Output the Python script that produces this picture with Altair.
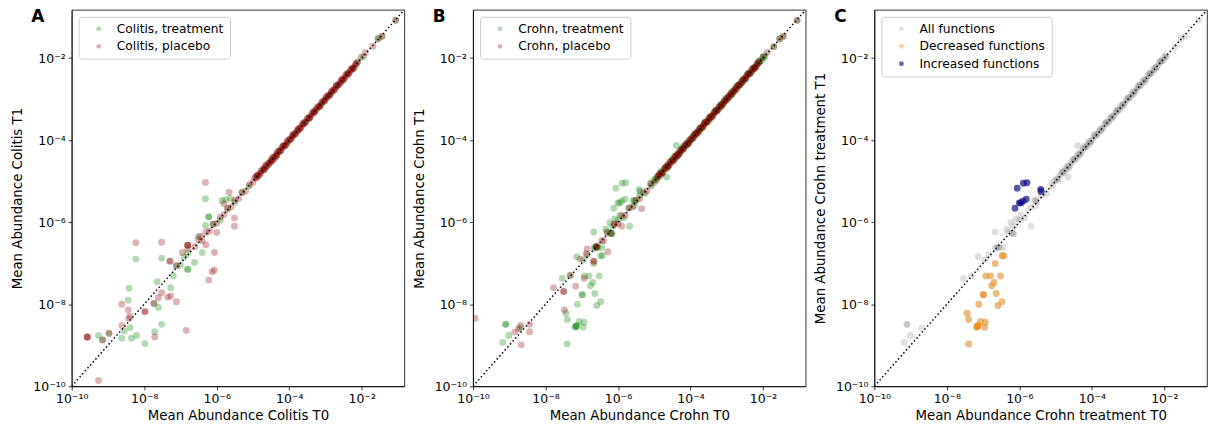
import altair as alt
import pandas as pd

# ---------------- values are log10(mean abundance) -------------
# Panel A: Colitis
a_trt_off_t0 = [-9.26, -9.15, -8.97, -8.62, -8.55, -8.35, -8.21, -7.98, -7.71, -7.73, -7.52, -8.39,
                -8.44, -8.42, -8.23, -7.52, -7.64, -7.61, -7.27, -7.20, -7.11, -6.80, -6.80, -6.80,
                -6.61, -6.40, -6.31, -5.85, -5.75, -5.62, -6.22, -6.22, -6.31, -6.50, -6.90, -7.00]
a_trt_off_t1 = [-8.76, -8.87, -8.71, -8.83, -8.65, -8.83, -8.76, -8.96, -8.67, -7.98, -8.49, -8.57,
                -7.90, -7.61, -6.90, -6.88, -7.45, -8.08, -7.60, -7.31, -7.06, -7.15, -7.15, -6.76,
                -6.98, -6.74, -5.43, -5.47, -5.45, -5.42, -5.87, -5.87, -6.08, -6.35, -6.85, -7.05]
a_trt_diag_t0 = [-6.1, -5.9, -5.7, -5.5, -5.3, -5.1, -4.9, -4.7, -4.5, -4.35, -4.2, -4.05, -3.9, -3.75,
                 -3.6, -3.45, -3.3, -3.15, -3.0, -2.85, -2.7, -2.55, -2.4, -2.25, -2.1, -1.95, -1.55,
                 -1.44, -1.06]
a_trt_diag_t1 = [-6.05, -5.95, -5.66, -5.52, -5.27, -5.12, -4.88, -4.72, -4.47, -4.37, -4.18, -4.07,
                 -3.88, -3.77, -3.58, -3.47, -3.28, -3.17, -2.98, -2.87, -2.68, -2.57, -2.38, -2.27,
                 -2.08, -1.97, -1.53, -1.47, -1.08]
a_pla_off_t0 = [-9.57, -9.57, -9.57, -9.26, -9.15, -8.97, -7.71, -6.84, -8.61, -8.39, -8.43, -8.62,
                -8.44, -8.23, -7.52, -7.98, -7.98, -7.73, -7.61, -7.52, -7.35, -7.27, -7.11, -7.29,
                -7.29, -7.11, -6.80, -6.80, -6.80, -6.80, -6.95, -6.22, -6.13, -6.06, -6.06, -5.51,
                -5.51, -6.31, -5.66, -6.45, -6.60, -6.30, -6.00, -5.80]
a_pla_off_t1 = [-8.80, -8.80, -8.80, -9.86, -8.87, -8.71, -8.80, -8.64, -8.52, -8.30, -8.35, -8.00,
                -8.14, -6.50, -6.49, -8.18, -8.18, -7.98, -7.84, -7.72, -7.83, -7.80, -7.94, -6.95,
                -6.95, -7.06, -6.56, -6.56, -6.56, -6.65, -6.74, -7.41, -7.21, -7.17, -6.74, -5.90,
                -6.10, -5.03, -5.27, -6.35, -6.60, -6.55, -6.25, -5.55]
a_pla_diag_t0 = [-6.5, -6.4, -6.3, -6.2, -6.1, -6.0, -5.9, -5.8, -5.7, -5.6, -5.5, -5.4, -5.3, -5.2,
                 -5.1, -5.0, -4.92, -4.85, -4.78, -4.7, -4.63, -4.56, -4.5, -4.44, -4.38, -4.31,
                 -4.25, -4.18, -4.12, -4.05, -3.98, -3.92, -3.85, -3.78, -3.72, -3.65, -3.58, -3.52,
                 -3.45, -3.38, -3.32, -3.25, -3.18, -3.12, -3.05, -2.98, -2.92, -2.85, -2.78, -2.72,
                 -2.65, -2.58, -2.52, -2.45, -2.38, -2.32, -2.25, -2.18, -2.12, -2.01, -1.9, -1.69,
                 -1.54, -1.44, -1.06]
a_pla_diag_t1 = [-6.42, -6.45, -6.25, -6.22, -6.05, -6.03, -5.88, -5.82, -5.68, -5.63, -5.47, -5.43,
                 -5.28, -5.24, -5.08, -5.03, -4.9, -4.88, -4.76, -4.73, -4.62, -4.58, -4.5, -4.48,
                 -4.4, -4.29, -4.27, -4.16, -4.14, -4.04, -3.97, -3.93, -3.84, -3.79, -3.71, -3.66,
                 -3.57, -3.53, -3.44, -3.39, -3.31, -3.26, -3.17, -3.13, -3.04, -2.99, -2.91, -2.86,
                 -2.77, -2.73, -2.64, -2.59, -2.51, -2.46, -2.37, -2.33, -2.24, -2.19, -2.11, -1.97,
                 -1.87, -1.71, -1.53, -1.47, -1.08]
a_pla_band_t0 = [-4.95, -4.9, -4.86, -4.81, -4.75, -4.68, -4.66, -4.6, -4.53, -4.47, -4.46, -4.41,
                 -4.35, -4.33, -4.28, -4.22, -4.15, -4.09, -4.02, -3.95, -3.89, -3.82, -3.75, -3.69,
                 -3.62, -3.55, -3.49, -3.42, -3.35, -3.29, -3.22, -3.15, -3.09, -3.02, -2.95, -2.89,
                 -2.82, -2.75, -2.69, -2.62, -2.55, -2.49, -2.42, -2.35, -2.29, -2.22, -2.15]
a_pla_band_t1 = [-4.93, -4.92, -4.84, -4.83, -4.73, -4.7, -4.62, -4.63, -4.55, -4.5, -4.42, -4.44,
                 -4.33, -4.36, -4.26, -4.24, -4.13, -4.11, -4.0, -3.97, -3.87, -3.84, -3.73, -3.71,
                 -3.6, -3.57, -3.47, -3.44, -3.33, -3.31, -3.2, -3.17, -3.07, -3.04, -2.93, -2.91,
                 -2.8, -2.77, -2.67, -2.64, -2.53, -2.51, -2.4, -2.37, -2.27, -2.24, -2.13]
a_pla_band2_t0 = [-4.88, -4.79, -4.71, -4.64, -4.58, -4.51, -4.43, -4.37, -4.3, -4.24, -4.17, -4.11,
                  -4.04, -3.97, -3.9, -3.84, -3.77, -3.7, -3.64, -3.57, -3.5, -3.44, -3.37, -3.3,
                  -3.24, -3.17, -3.1, -3.04, -2.97, -2.9, -2.84, -2.77, -2.7, -2.64, -2.57, -2.5,
                  -2.44, -2.37, -2.3, -2.24, -2.17]
a_pla_band2_t1 = [-4.86, -4.81, -4.69, -4.66, -4.56, -4.53, -4.41, -4.39, -4.28, -4.26, -4.15, -4.13,
                  -4.02, -3.99, -3.88, -3.86, -3.75, -3.72, -3.62, -3.59, -3.48, -3.46, -3.35, -3.32,
                  -3.22, -3.19, -3.08, -3.06, -2.95, -2.92, -2.82, -2.79, -2.68, -2.66, -2.55, -2.52,
                  -2.42, -2.39, -2.28, -2.26, -2.15]

# Panel C subsets (Crohn treatment), also part of the Crohn treatment series in panel B
c_dec_t0 = [-7.40, -7.44, -7.40, -7.16, -7.16, -7.14, -7.18, -7.07, -6.94, -6.96, -7.12, -6.99,
            -6.99, -6.76, -6.70, -6.64, -6.59, -6.48, -6.93, -6.80, -6.52, -6.67, -6.48, -6.43]
c_dec_t1 = [-8.97, -8.22, -8.37, -8.54, -8.54, -8.52, -8.56, -8.42, -8.44, -8.56, -8.00, -7.77,
            -7.77, -7.55, -7.47, -7.74, -8.03, -7.94, -7.31, -7.31, -7.31, -7.01, -6.82, -6.82]
c_inc_t0 = [-6.06, -5.89, -5.79, -6.12, -6.00, -5.96, -5.90, -5.81, -5.40, -5.41]
c_inc_t1 = [-5.17, -5.05, -5.04, -5.66, -5.53, -5.53, -5.49, -5.44, -5.25, -5.20]
c_other_t0 = [-9.18, -9.01, -9.10, -9.10, -8.69, -7.54, -7.33, -7.14, -6.96, -6.85, -6.67, -6.66,
              -6.62, -6.58, -6.55, -6.45, -6.34, -6.23, -6.18, -6.16, -6.20, -6.09, -5.95, -5.68,
              -5.58, -5.55, -5.52, -5.08, -4.66, -4.39]
c_other_t1 = [-8.93, -8.76, -8.49, -8.49, -8.58, -7.37, -7.31, -6.84, -6.92, -6.79, -6.24, -6.63,
              -6.63, -6.60, -6.62, -6.62, -6.17, -6.01, -6.28, -6.28, -6.26, -5.92, -5.83, -6.10,
              -5.47, -5.47, -5.50, -5.12, -4.90, -4.13]
b_trt_diag_t0 = [-6.3, -6.15, -6.0, -5.85, -5.7, -5.55, -5.4, -5.25, -5.1, -4.95, -4.8, -4.65, -4.5,
                 -4.35, -4.2, -4.05, -3.9, -3.75, -3.6, -3.45, -3.3, -3.15, -3.0, -2.85, -2.7, -2.55,
                 -2.4, -2.25, -2.1, -1.95, -1.7, -1.54, -1.44, -1.06]
b_trt_diag_t1 = [-6.25, -6.1, -5.95, -5.9, -5.65, -5.6, -5.35, -5.3, -5.05, -4.98, -4.75, -4.7,
                 -4.45, -4.38, -4.15, -4.08, -3.86, -3.78, -3.56, -3.48, -3.27, -3.18, -2.97, -2.88,
                 -2.67, -2.58, -2.37, -2.28, -2.07, -1.98, -1.72, -1.53, -1.47, -1.08]
b_trt_band_t0 = [-5.02, -4.93, -4.84, -4.76, -4.68, -4.6, -4.52, -4.44, -4.37, -4.29, -4.22, -4.14,
                 -4.07, -3.99, -3.92, -3.84, -3.77, -3.69, -3.62, -3.54, -3.47, -3.39, -3.32, -3.24,
                 -3.17, -3.09, -3.02, -2.94, -2.87, -2.79, -2.72, -2.64, -2.57, -2.49, -2.42, -2.34,
                 -2.27, -2.19, -2.12, -2.04, -1.97]
b_trt_band_t1 = [-4.98, -4.95, -4.8, -4.78, -4.64, -4.62, -4.49, -4.46, -4.34, -4.31, -4.19, -4.16,
                 -4.04, -4.01, -3.89, -3.86, -3.74, -3.71, -3.59, -3.56, -3.44, -3.41, -3.29, -3.26,
                 -3.14, -3.11, -2.99, -2.96, -2.84, -2.81, -2.69, -2.66, -2.54, -2.51, -2.39, -2.36,
                 -2.24, -2.21, -2.09, -2.06, -1.94]
b_trt_band2_t0 = [-4.97, -4.88, -4.8, -4.72, -4.64, -4.56, -4.48, -4.4, -4.33, -4.25, -4.18, -4.1,
                  -4.03, -3.95, -3.88, -3.8, -3.73, -3.65, -3.58, -3.5, -3.43, -3.35, -3.28, -3.2,
                  -3.13, -3.05, -2.98, -2.9, -2.83, -2.75, -2.68, -2.6, -2.53, -2.45, -2.38, -2.3,
                  -2.23, -2.15, -2.08, -2.0]
b_trt_band2_t1 = [-4.94, -4.86, -4.79, -4.7, -4.63, -4.54, -4.47, -4.38, -4.32, -4.23, -4.17, -4.08,
                  -4.02, -3.93, -3.87, -3.78, -3.72, -3.63, -3.57, -3.48, -3.42, -3.33, -3.27, -3.18,
                  -3.12, -3.03, -2.97, -2.88, -2.82, -2.73, -2.67, -2.58, -2.52, -2.43, -2.37, -2.28,
                  -2.22, -2.13, -2.07, -1.98]
b_pla_off_t0 = [-9.94, -8.85, -8.75, -8.69, -8.67, -8.44, -8.44, -7.78, -7.50, -7.50, -7.48, -7.17,
                -7.31, -7.05, -6.93, -6.88, -6.67, -6.67, -6.85, -6.60, -6.60, -6.60, -6.28, -6.45,
                -5.35, -6.10, -5.90]
b_pla_off_t1 = [-8.34, -8.68, -8.60, -8.52, -8.99, -8.67, -8.49, -7.60, -7.69, -7.69, -8.14, -7.56,
                -7.29, -6.90, -7.37, -6.77, -6.95, -6.95, -6.65, -6.60, -6.60, -6.60, -6.72, -6.45,
                -5.67, -6.05, -6.10]
b_pla_diag_t0 = [-6.4, -6.3, -6.2, -6.1, -6.0, -5.9, -5.8, -5.7, -5.6, -5.5, -5.4, -5.3, -5.2, -5.1,
                 -5.0, -4.9, -4.8, -4.7, -4.62, -4.55, -4.48, -4.41, -4.34, -4.27, -4.2, -4.13,
                 -4.06, -3.99, -3.92, -3.85, -3.78, -3.71, -3.64, -3.57, -3.5, -3.43, -3.36, -3.29,
                 -3.22, -3.15, -3.08, -3.01, -2.94, -2.87, -2.8, -2.73, -2.66, -2.59, -2.52, -2.45,
                 -2.38, -2.31, -2.24, -2.17, -2.1, -2.0, -1.88, -1.7, -1.54, -1.44, -1.06]
b_pla_diag_t1 = [-6.45, -6.25, -6.28, -6.05, -6.04, -5.85, -5.83, -5.66, -5.63, -5.46, -5.43, -5.27,
                 -5.23, -5.07, -5.03, -4.88, -4.83, -4.68, -4.63, -4.53, -4.49, -4.39, -4.35, -4.25,
                 -4.21, -4.11, -4.07, -3.97, -3.93, -3.83, -3.79, -3.69, -3.65, -3.55, -3.51, -3.41,
                 -3.37, -3.27, -3.23, -3.13, -3.09, -2.99, -2.95, -2.85, -2.81, -2.71, -2.67, -2.57,
                 -2.53, -2.43, -2.39, -2.29, -2.25, -2.15, -2.11, -1.98, -1.86, -1.72, -1.53, -1.47,
                 -1.08]
b_pla_band_t0 = [-4.92, -4.87, -4.83, -4.78, -4.72, -4.65, -4.63, -4.57, -4.5, -4.44, -4.43, -4.38,
                 -4.32, -4.3, -4.25, -4.19, -4.12, -4.06, -3.99, -3.92, -3.86, -3.79, -3.72, -3.66,
                 -3.59, -3.52, -3.46, -3.39, -3.32, -3.26, -3.19, -3.12, -3.06, -2.99, -2.92, -2.86,
                 -2.79, -2.72, -2.66, -2.59, -2.52, -2.46, -2.39, -2.32, -2.26, -2.19, -2.12]
b_pla_band_t1 = [-4.9, -4.89, -4.81, -4.8, -4.7, -4.67, -4.59, -4.6, -4.52, -4.47, -4.39, -4.41,
                 -4.3, -4.33, -4.23, -4.21, -4.1, -4.08, -3.97, -3.94, -3.84, -3.81, -3.7, -3.68,
                 -3.57, -3.54, -3.44, -3.41, -3.3, -3.28, -3.17, -3.14, -3.04, -3.01, -2.9, -2.88,
                 -2.77, -2.74, -2.64, -2.61, -2.5, -2.48, -2.37, -2.34, -2.24, -2.21, -2.1]
b_pla_band2_t0 = [-4.86, -4.77, -4.69, -4.62, -4.56, -4.49, -4.41, -4.35, -4.28, -4.22, -4.15, -4.09,
                  -4.02, -3.95, -3.88, -3.82, -3.75, -3.68, -3.62, -3.55, -3.48, -3.42, -3.35, -3.28,
                  -3.22, -3.15, -3.08, -3.02, -2.95, -2.88, -2.82, -2.75, -2.68, -2.62, -2.55, -2.48,
                  -2.42, -2.35, -2.28, -2.22, -2.15]
b_pla_band2_t1 = [-4.84, -4.79, -4.67, -4.64, -4.54, -4.51, -4.39, -4.37, -4.26, -4.24, -4.13, -4.11,
                  -4.0, -3.97, -3.86, -3.84, -3.73, -3.7, -3.6, -3.57, -3.46, -3.44, -3.33, -3.3,
                  -3.2, -3.17, -3.06, -3.04, -2.93, -2.9, -2.8, -2.77, -2.66, -2.64, -2.53, -2.5,
                  -2.4, -2.37, -2.26, -2.24, -2.13]

tick_values = [1e-10, 1e-8, 1e-6, 1e-4, 1e-2]
tick_labels = ["10⁻¹⁰", "10⁻⁸", "10⁻⁶", "10⁻⁴", "10⁻²"]
axis_min, axis_max = 1e-10, 0.15

FONT = "DejaVu Sans"


def frame(t0, t1, name):
    return pd.DataFrame({"x": [10 ** v for v in t0], "y": [10 ** v for v in t1], "series": name})


label_expr = ""
for v, lab in zip(tick_values, tick_labels):
    label_expr += f"datum.value <= {v * 1.5} ? '{lab}' : "
label_expr += "''"


def panel(df, names, colors, opacities, xtitle, ytitle, letter):
    xs = alt.Scale(type="log", domain=[axis_min, axis_max], nice=False)
    ys = alt.Scale(type="log", domain=[axis_min, axis_max], nice=False)
    xax = alt.Axis(values=tick_values, labelExpr=label_expr, title=xtitle, labelFlush=False,
                   labelOverlap=False, titlePadding=3)
    yax = alt.Axis(values=tick_values, labelExpr=label_expr, title=ytitle, labelFlush=False,
                   labelOverlap=False, titlePadding=8)
    leg = alt.Legend(orient="top-left", offset=7, padding=6, fillColor="white",
                     strokeColor="#cccccc", cornerRadius=3, labelFontSize=12.3, labelFont=FONT,
                     labelColor="black", symbolSize=24, symbolType="circle", symbolOffset=8,
                     labelOffset=12, rowPadding=4.5, symbolStrokeWidth=0)
    pts = alt.Chart(df).mark_circle(size=48, clip=True, strokeWidth=0).encode(
        x=alt.X("x:Q", scale=xs, axis=xax),
        y=alt.Y("y:Q", scale=ys, axis=yax),
        color=alt.Color("series:N", scale=alt.Scale(domain=names, range=colors), legend=leg,
                        title=None),
        opacity=alt.Opacity("series:N", scale=alt.Scale(domain=names, range=opacities),
                            legend=leg, title=None),
    )
    diag = alt.Chart(pd.DataFrame({"x": [axis_min, axis_max], "y": [axis_min, axis_max]})).mark_line(
        color="black", strokeWidth=1.5, strokeDash=[1.5, 2.5], clip=True
    ).encode(x=alt.X("x:Q", scale=xs), y=alt.Y("y:Q", scale=ys))
    txt = alt.Chart(pd.DataFrame({"t": [letter]})).mark_text(
        fontSize=17, fontWeight="bold", font=FONT, color="black", baseline="middle", align="center"
    ).encode(text="t:N", x=alt.value(-34), y=alt.value(7.5))
    return alt.layer(pts, diag, txt).resolve_scale(color="shared").properties(width=334, height=378)


dfA = pd.concat([
    frame(a_trt_off_t0 + a_trt_diag_t0, a_trt_off_t1 + a_trt_diag_t1, "Colitis, treatment"),
    frame(a_pla_off_t0 + a_pla_diag_t0 + a_pla_band_t0 + a_pla_band2_t0,
          a_pla_off_t1 + a_pla_diag_t1 + a_pla_band_t1 + a_pla_band2_t1, "Colitis, placebo"),
])
b_trt_t0 = c_other_t0 + c_dec_t0 + c_inc_t0 + b_trt_diag_t0 + b_trt_band_t0 + b_trt_band2_t0
b_trt_t1 = c_other_t1 + c_dec_t1 + c_inc_t1 + b_trt_diag_t1 + b_trt_band_t1 + b_trt_band2_t1
dfB = pd.concat([
    frame(b_trt_t0, b_trt_t1, "Crohn, treatment"),
    frame(b_pla_off_t0 + b_pla_diag_t0 + b_pla_band_t0 + b_pla_band2_t0,
          b_pla_off_t1 + b_pla_diag_t1 + b_pla_band_t1 + b_pla_band2_t1, "Crohn, placebo"),
])
dfC = pd.concat([
    frame(b_trt_t0, b_trt_t1, "All functions"),
    frame(c_dec_t0, c_dec_t1, "Decreased functions"),
    frame(c_inc_t0, c_inc_t1, "Increased functions"),
])

pA = panel(dfA, ["Colitis, treatment", "Colitis, placebo"], ["#008000", "#8b0000"], [0.3, 0.3],
           "Mean Abundance Colitis T0", "Mean Abundance Colitis T1", "A")
pB = panel(dfB, ["Crohn, treatment", "Crohn, placebo"], ["#008000", "#8b0000"], [0.3, 0.3],
           "Mean Abundance Crohn T0", "Mean Abundance Crohn T1", "B")
pC = panel(dfC, ["All functions", "Decreased functions", "Increased functions"],
           ["#808080", "#ff8c00", "#00008b"], [0.25, 0.6, 0.6],
           "Mean Abundance Crohn treatment T0", "Mean Abundance Crohn treatment T1", "C")

chart = alt.hconcat(pA, pB, pC, spacing=6).resolve_scale(
    color="independent", opacity="independent", x="independent", y="independent"
).resolve_legend(color="independent", opacity="independent").properties(
    padding={"left": 10, "top": 7, "right": 0, "bottom": 0}, background="white"
).configure(font=FONT).configure_axis(
    domainColor="black", domainWidth=0.8, tickColor="black", tickWidth=0.8, tickSize=3.5,
    labelFontSize=12.5, labelColor="black", labelFont=FONT, labelPadding=3,
    titleFont=FONT, titleFontSize=13.4, titleFontWeight="normal", titleColor="black", grid=False,
).configure_view(stroke="black", strokeWidth=0.8)

chart.save("out.html", embed_options={"renderer": "svg", "actions": False})
